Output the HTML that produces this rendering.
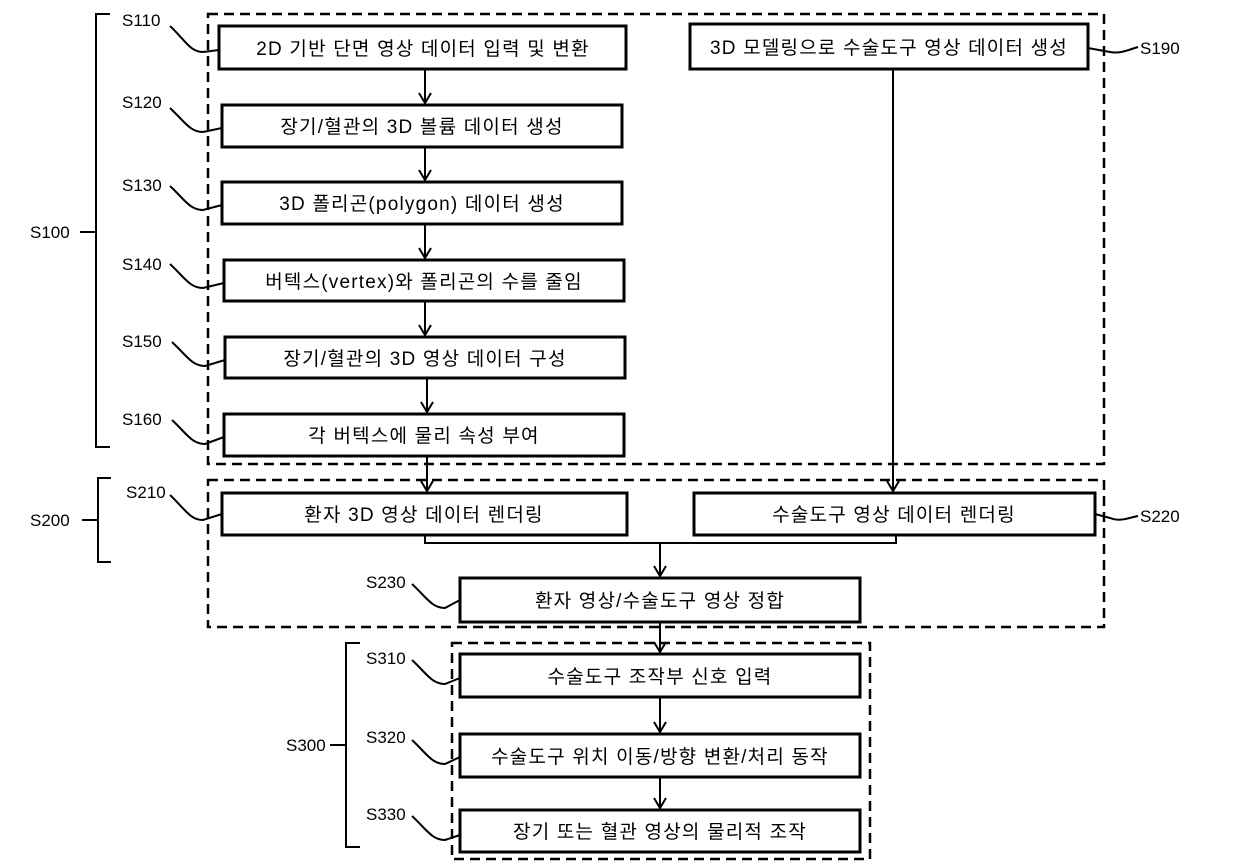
<!DOCTYPE html>
<html><head><meta charset="utf-8"><style>
html,body{margin:0;padding:0;background:#fff;}
svg text{font-family:"Liberation Sans","Noto Sans CJK KR","NanumGothic",sans-serif;font-size:17px;fill:#000;}
svg g.t text{font-size:19px;letter-spacing:1.2px;}
</style></head><body>
<svg width="1240" height="862" viewBox="0 0 1240 862" xmlns="http://www.w3.org/2000/svg">
<defs><marker id="a" markerWidth="14" markerHeight="14" refX="7" refY="12" markerUnits="userSpaceOnUse"><path d="M1,2 L7,12 L13,2" fill="none" stroke="#000" stroke-width="2"/></marker></defs>
<g fill="none" stroke="#000" stroke-width="2.5" stroke-dasharray="10,6">
<rect x="208" y="14" width="896" height="450"/>
<rect x="208" y="480" width="896" height="147"/>
<rect x="452" y="643" width="418" height="216"/>
</g>
<g fill="#fff" stroke="#000" stroke-width="3">
<rect x="219" y="26" width="407" height="43"/>
<rect x="222" y="105" width="400" height="42"/>
<rect x="222" y="182" width="400" height="42"/>
<rect x="224" y="260" width="400" height="41"/>
<rect x="225" y="337" width="400" height="41"/>
<rect x="224" y="414" width="400" height="42"/>
<rect x="690" y="24" width="398" height="45"/>
<rect x="222" y="493" width="405" height="42"/>
<rect x="694" y="493" width="401" height="42"/>
<rect x="460" y="578" width="400" height="44"/>
<rect x="460" y="654" width="400" height="43"/>
<rect x="460" y="734" width="400" height="43"/>
<rect x="460" y="810" width="400" height="42"/>
</g>
<g stroke="#000" stroke-width="2" fill="none">
<line x1="425" y1="69" x2="425" y2="103" marker-end="url(#a)"/>
<line x1="425" y1="147" x2="425" y2="180" marker-end="url(#a)"/>
<line x1="425" y1="224" x2="425" y2="258" marker-end="url(#a)"/>
<line x1="425" y1="301" x2="425" y2="335" marker-end="url(#a)"/>
<line x1="427" y1="378" x2="427" y2="412" marker-end="url(#a)"/>
<line x1="427" y1="456" x2="427" y2="491" marker-end="url(#a)"/>
<line x1="893" y1="69" x2="893" y2="491" marker-end="url(#a)"/>
<polyline points="425,535 425,543 896,543 896,535"/>
<line x1="660" y1="543" x2="660" y2="576" marker-end="url(#a)"/>
<line x1="660" y1="622" x2="660" y2="652" marker-end="url(#a)"/>
<line x1="660" y1="697" x2="660" y2="732" marker-end="url(#a)"/>
<line x1="660" y1="777" x2="660" y2="808" marker-end="url(#a)"/>
<polyline points="110,14 96,14 96,447 110,447"/><line x1="80" y1="232" x2="96" y2="232"/>
<polyline points="111,478 98,478 98,562 111,562"/><line x1="82" y1="520" x2="98" y2="520"/>
<polyline points="360,643 346,643 346,847 360,847"/><line x1="330" y1="745" x2="346" y2="745"/>
<path d="M170,26 C185,40 190,52 203,52 L219,50"/>
<path d="M170,108 C185,122 190,132 203,132 L222,128"/>
<path d="M170,186 C185,200 190,210 203,210 L222,205"/>
<path d="M170,264 C185,278 190,288 203,288 L224,283"/>
<path d="M172,342 C187,356 192,366 205,366 L225,360"/>
<path d="M172,420 C187,434 192,444 205,444 L224,437"/>
<path d="M170,495 C185,509 190,520 203,520 L222,514"/>
<path d="M412,584 C427,598 432,608 445,608 L460,600"/>
<path d="M412,660 C427,674 432,684 445,684 L460,678"/>
<path d="M412,740 C427,754 432,764 445,764 L460,757"/>
<path d="M412,816 C427,830 432,840 445,840 L460,835"/>
<path d="M1088,48 L1110,52 C1120,54 1128,50 1138,47"/>
<path d="M1095,514 L1110,518 C1120,522 1128,518 1138,516"/>
</g>
<g>
<text x="122" y="26">S110</text>
<text x="122" y="108">S120</text>
<text x="122" y="191">S130</text>
<text x="122" y="270">S140</text>
<text x="122" y="347">S150</text>
<text x="122" y="425">S160</text>
<text x="126" y="498">S210</text>
<text x="366" y="588">S230</text>
<text x="366" y="664">S310</text>
<text x="366" y="743">S320</text>
<text x="366" y="820">S330</text>
<text x="1140" y="54">S190</text>
<text x="1140" y="522">S220</text>
<text x="30" y="238">S100</text>
<text x="30" y="526">S200</text>
<text x="286" y="751">S300</text>
</g>
<g text-anchor="middle" class="t">
<text x="423" y="55">2D 기반 단면 영상 데이터 입력 및 변환</text>
<text x="422" y="133">장기/혈관의 3D 볼륨 데이터 생성</text>
<text x="422" y="210">3D 폴리곤(polygon) 데이터 생성</text>
<text x="424" y="288">버텍스(vertex)와 폴리곤의 수를 줄임</text>
<text x="425" y="365">장기/혈관의 3D 영상 데이터 구성</text>
<text x="424" y="442">각 버텍스에 물리 속성 부여</text>
<text x="889" y="54">3D 모델링으로 수술도구 영상 데이터 생성</text>
<text x="424" y="521">환자 3D 영상 데이터 렌더링</text>
<text x="894" y="521">수술도구 영상 데이터 렌더링</text>
<text x="660" y="607">환자 영상/수술도구 영상 정합</text>
<text x="660" y="683">수술도구 조작부 신호 입력</text>
<text x="660" y="763">수술도구 위치 이동/방향 변환/처리 동작</text>
<text x="660" y="838">장기 또는 혈관 영상의 물리적 조작</text>
</g>
</svg>
</body></html>
